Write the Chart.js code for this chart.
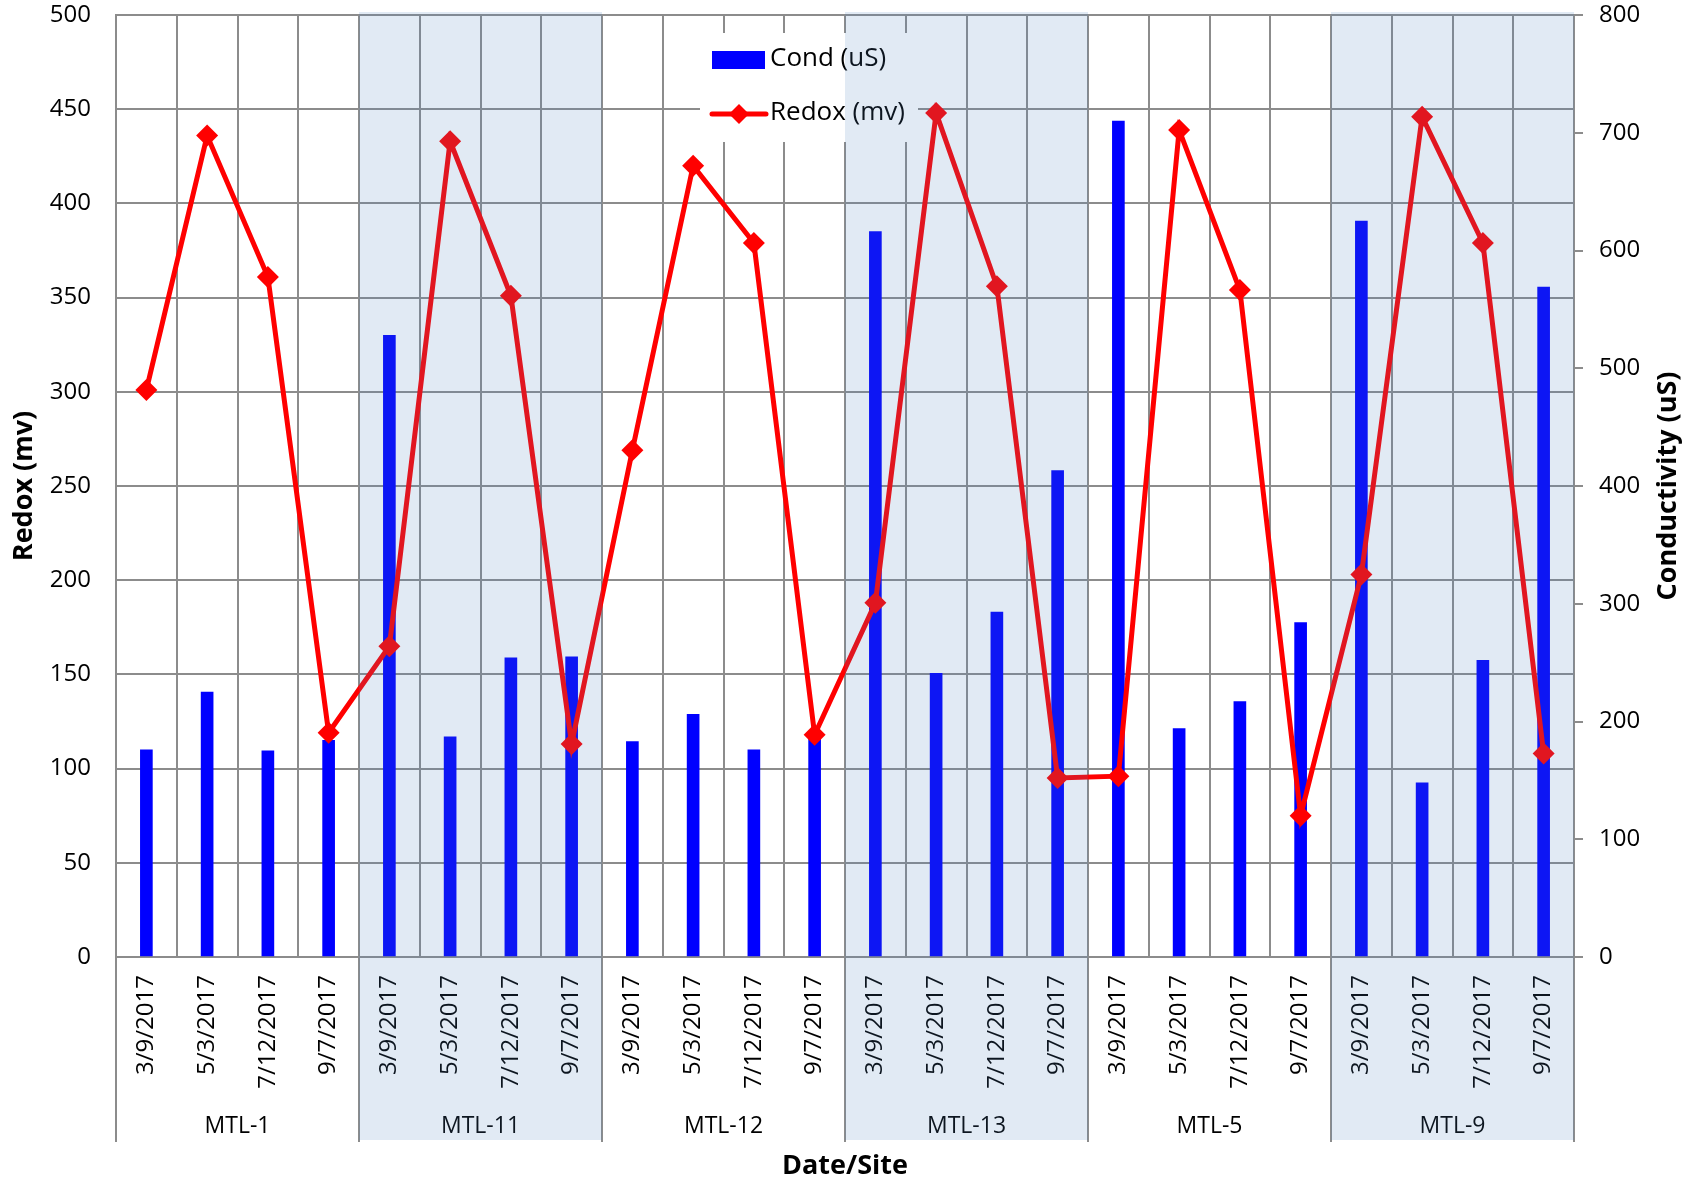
<!DOCTYPE html>
<html>
<head>
<meta charset="utf-8">
<script src="https://cdn.jsdelivr.net/npm/chart.js@4.4.1/dist/chart.umd.min.js"></script>
<style>
  html, body { margin: 0; padding: 0; background: #fff; }
  canvas { display: block; }
</style>
</head>
<body>
<canvas id="chart" width="1698" height="1186" style="width:1698px;height:1186px"></canvas>
<script>
/* ================= DATA ================= */

const sites = ["MTL-1", "MTL-11", "MTL-12", "MTL-13", "MTL-5", "MTL-9"];
const dates = ["3/9/2017", "5/3/2017", "7/12/2017", "9/7/2017"];
const shadedSites = ["MTL-11", "MTL-13", "MTL-9"];

// conductivity (uS), right axis
const condValues = [176, 225, 175, 184,  528, 187, 254, 255,  183, 206, 176, 185,
                    616, 241, 293, 413,  710, 194, 217, 284,  625, 148, 252, 569];
// redox (mv), left axis
const redoxValues = [301, 436, 361, 119,  165, 433, 351, 113,  269, 420, 379, 118,
                     188, 448, 356, 95,   96, 439, 354, 75,   203, 446, 379, 108];

const redoxMax = 500, redoxStep = 50;
const condMax = 800, condStep = 100;

const labels = [];
sites.forEach(() => dates.forEach(d => labels.push(d)));

/* ================= STYLE ================= */

const FONT = "'Open Sans', 'Noto Sans', sans-serif";
const GRID = "#8c8c8c";
const RED = "#FF0000";
const BLUE = "#0000FF";

/* ================= EXTRAS: legend, groups, titles, shading ================= */

const decor = {
  id: "decor",

  afterDatasetsDraw(chart) {
    const ctx = chart.ctx;
    const x = chart.scales.x;
    const area = chart.chartArea;
    const half = (x.getPixelForValue(1) - x.getPixelForValue(0)) / 2;

    ctx.save();

    // legend box (white, hides gridlines)
    ctx.fillStyle = "#fff";
    ctx.fillRect(700, 33, 218, 109);

    ctx.fillStyle = BLUE;
    ctx.fillRect(712, 51, 53, 18);

    ctx.strokeStyle = RED;
    ctx.lineWidth = 5;
    ctx.lineCap = "round";
    ctx.beginPath();
    ctx.moveTo(712, 114);
    ctx.lineTo(766, 114);
    ctx.stroke();

    ctx.fillStyle = RED;
    ctx.beginPath();
    ctx.moveTo(739, 104);
    ctx.lineTo(749, 114);
    ctx.lineTo(739, 124);
    ctx.lineTo(729, 114);
    ctx.closePath();
    ctx.fill();

    ctx.fillStyle = "#000";
    ctx.font = "26px " + FONT;
    ctx.textAlign = "left";
    ctx.textBaseline = "middle";
    ctx.fillText("Cond (uS)", 770, 59);
    ctx.fillText("Redox (mv)", 770, 113);

    // group separators below the axis
    ctx.strokeStyle = GRID;
    ctx.lineWidth = 2;
    ctx.lineCap = "butt";
    for (let g = 0; g <= sites.length; g++) {
      let px = g < sites.length
        ? x.getPixelForValue(g * dates.length) - half
        : x.getPixelForValue(labels.length - 1) + half;
      px = Math.round(px);
      ctx.beginPath();
      ctx.moveTo(px, area.bottom);
      ctx.lineTo(px, 1142);
      ctx.stroke();
    }

    // group labels
    ctx.font = "23px " + FONT;
    ctx.textAlign = "center";
    sites.forEach((s, g) => {
      const cx = (x.getPixelForValue(g * dates.length) + x.getPixelForValue(g * dates.length + dates.length - 1)) / 2;
      ctx.fillText(s, cx, 1126);
    });

    // axis titles
    ctx.font = "bold 27px " + FONT;
    ctx.fillText("Date/Site", (area.left + area.right) / 2, 1166);

    const midY = (area.top + area.bottom) / 2;
    ctx.save();
    ctx.translate(24, midY);
    ctx.rotate(-Math.PI / 2);
    ctx.fillText("Redox (mv)", 0, 0);
    ctx.restore();

    ctx.save();
    ctx.translate(1668, midY);
    ctx.rotate(-Math.PI / 2);
    ctx.fillText("Conductivity (uS)", 0, 0);
    ctx.restore();

    ctx.restore();
  },

  afterDraw(chart) {
    const ctx = chart.ctx;
    const x = chart.scales.x;
    const half = (x.getPixelForValue(1) - x.getPixelForValue(0)) / 2;

    ctx.save();
    ctx.fillStyle = "rgba(79, 129, 189, 0.17)";
    sites.forEach((s, g) => {
      if (!shadedSites.includes(s)) return;
      const left = x.getPixelForValue(g * dates.length) - half;
      const right = x.getPixelForValue(g * dates.length + dates.length - 1) + half;
      ctx.fillRect(left, 12, right - left, 1140 - 12);
    });
    ctx.restore();
  }
};

// keep the plot area fixed: no extra room for the end tick labels
function noVPad(s) {
  s.paddingTop = 0;
  s.paddingBottom = 0;
}

/* ================= CHART ================= */

new Chart(document.getElementById("chart"), {
  data: {
    labels: labels,
    datasets: [
      {
        type: "line",
        label: "Redox (mv)",
        data: redoxValues,
        yAxisID: "y",
        borderColor: RED,
        backgroundColor: RED,
        borderWidth: 5,
        pointStyle: "rectRot",
        pointRadius: 11,
        pointBorderWidth: 0,
        pointBackgroundColor: RED,
        tension: 0,
        order: 0
      },
      {
        type: "bar",
        label: "Cond (uS)",
        data: condValues,
        yAxisID: "y2",
        backgroundColor: BLUE,
        barThickness: 12,
        order: 1
      }
    ]
  },
  options: {
    responsive: false,
    animation: false,
    devicePixelRatio: 1,
    layout: { padding: { top: 15, left: 0, right: 0, bottom: 0 } },
    plugins: {
      legend: { display: false },
      tooltip: { enabled: false }
    },
    scales: {
      x: {
        type: "category",
        offset: true,
        grid: { offset: true, color: GRID, lineWidth: 2, drawTicks: false },
        border: { color: GRID, width: 2 },
        ticks: {
          autoSkip: false,
          minRotation: 90,
          maxRotation: 90,
          padding: 18,
          color: "#000",
          font: { family: FONT, size: 24 }
        },
        afterFit(s) { s.height = 229; s.paddingLeft = 0; s.paddingRight = 0; }
      },
      y: {
        position: "left",
        min: 0,
        max: redoxMax,
        grid: { color: GRID, lineWidth: 2, drawTicks: false },
        border: { color: GRID, width: 2 },
        ticks: {
          stepSize: redoxStep,
          padding: 25,
          color: "#000",
          font: { family: FONT, size: 24 }
        },
        afterFit(s) { s.width = 116; noVPad(s); }
      },
      y2: {
        position: "right",
        min: 0,
        max: condMax,
        grid: { drawOnChartArea: false, color: GRID, lineWidth: 2, tickLength: 9 },
        border: { color: GRID, width: 2 },
        ticks: {
          stepSize: condStep,
          padding: 16,
          color: "#000",
          font: { family: FONT, size: 24 }
        },
        afterFit(s) { s.width = 124; noVPad(s); }
      }
    }
  },
  plugins: [decor]
});
</script>
</body>
</html>
